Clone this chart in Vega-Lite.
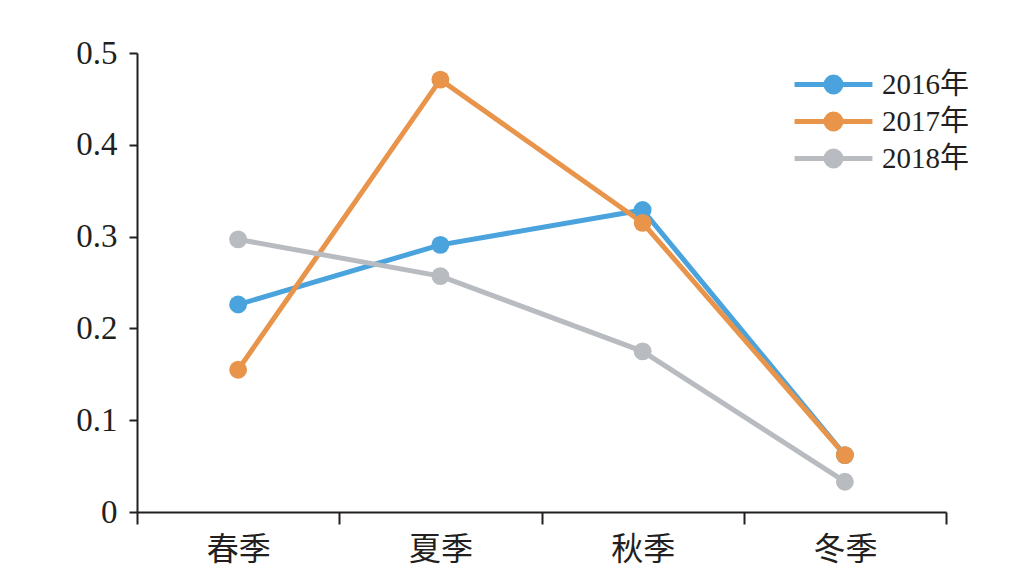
{
  "$schema": "https://vega.github.io/schema/vega-lite/v6.json",
  "width": 809,
  "height": 459,
  "autosize": "none",
  "padding": {"left": 137, "top": 53, "right": 66, "bottom": 69},
  "background": "white",
  "config": {
    "view": {"stroke": null},
    "font": "Liberation Serif, Noto Sans CJK SC",
    "axis": {"domainColor": "#231F20", "tickColor": "#231F20", "domainWidth": 2, "tickWidth": 2, "labelColor": "#231F20", "grid": false, "title": null}
  },
  "data": {
    "values": [
      {"season": "春季", "year": "2016年", "value": 0.226},
      {"season": "夏季", "year": "2016年", "value": 0.291},
      {"season": "秋季", "year": "2016年", "value": 0.329},
      {"season": "冬季", "year": "2016年", "value": 0.062},
      {"season": "春季", "year": "2017年", "value": 0.155},
      {"season": "夏季", "year": "2017年", "value": 0.471},
      {"season": "秋季", "year": "2017年", "value": 0.315},
      {"season": "冬季", "year": "2017年", "value": 0.062},
      {"season": "春季", "year": "2018年", "value": 0.297},
      {"season": "夏季", "year": "2018年", "value": 0.257},
      {"season": "秋季", "year": "2018年", "value": 0.175},
      {"season": "冬季", "year": "2018年", "value": 0.033}
    ]
  },
  "mark": {"type": "line", "strokeWidth": 5, "point": {"filled": true, "size": 320, "opacity": 1}},
  "encoding": {
    "x": {
      "field": "season", "type": "nominal", "sort": ["春季", "夏季", "秋季", "冬季"],
      "scale": {"paddingInner": 0, "paddingOuter": 0},
      "axis": {"labelAngle": 0, "tickBand": "extent", "tickSize": 12, "labelFontSize": 32, "labelPadding": 10, "labelFont": "Noto Sans CJK SC"}
    },
    "y": {
      "field": "value", "type": "quantitative",
      "scale": {"domain": [0, 0.5], "nice": false},
      "axis": {"values": [0, 0.1, 0.2, 0.3, 0.4, 0.5], "tickSize": 8, "labelPadding": 12, "labelFontSize": 33, "labelExpr": "datum.value == 0 ? '0' : format(datum.value, '.1f')"}
    },
    "color": {
      "field": "year", "type": "nominal",
      "scale": {"domain": ["2016年", "2017年", "2018年"], "range": ["#4AA3DC", "#E8944A", "#B8BBC0"]},
      "legend": {
        "title": null, "orient": "none", "legendX": 677, "legendY": 12,
        "symbolType": "M-2.29,0H2.29M0.44,0A0.44,0.44 0 1,1 -0.44,0A0.44,0.44 0 1,1 0.44,0Z",
        "symbolSize": 1156, "symbolStrokeWidth": 5, "labelFontSize": 29, "labelFont": "Liberation Serif, Noto Sans CJK SC",
        "rowPadding": -6.5, "labelOffset": 29, "labelColor": "#231F20"
      }
    }
  }
}
